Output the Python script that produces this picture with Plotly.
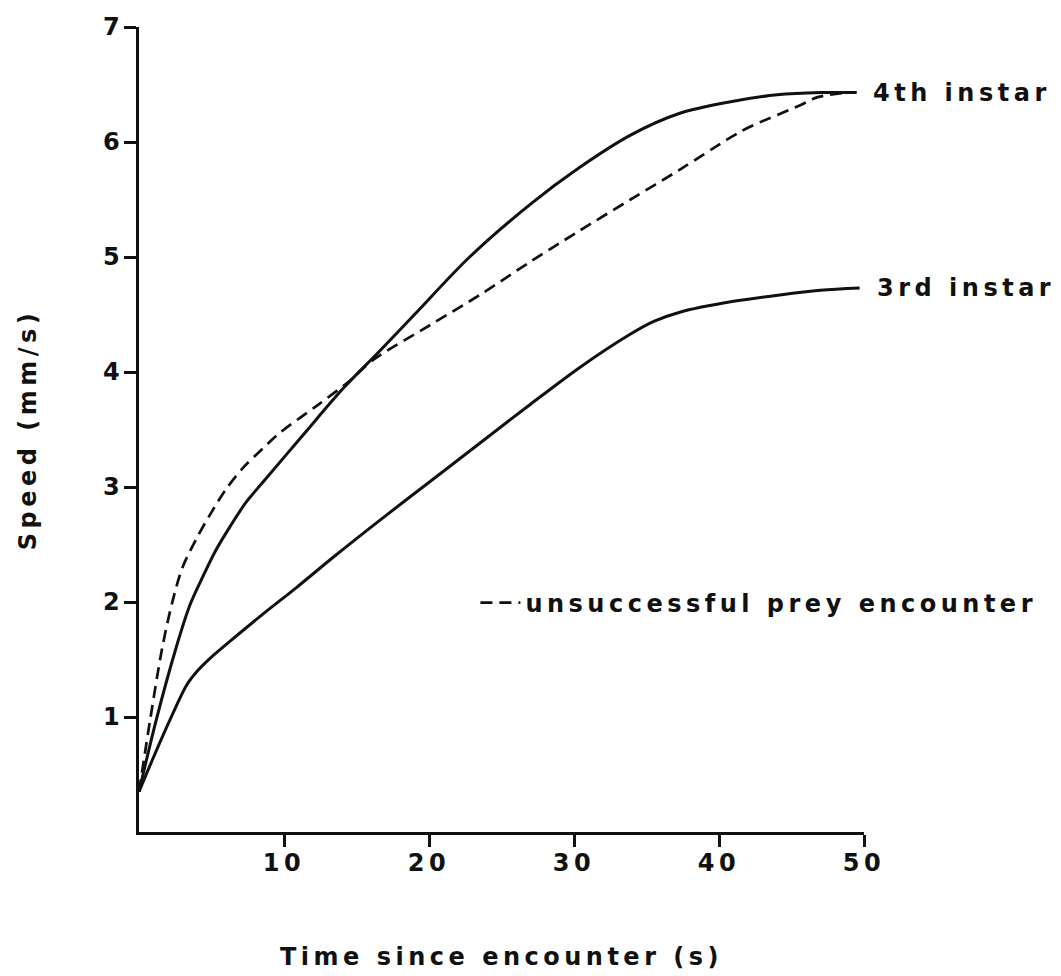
import plotly.graph_objects as go

# ---- data ----
time_4th = [0, 1.2, 2.6, 3.5, 4.4, 5.3, 6.3, 7.4, 8.6, 11.3, 14.1, 16.5, 19.0, 22.8, 27.0, 30.4, 33.9, 37.3, 40.8, 44.0, 47.0, 49.5]
speed_4th = [0.35, 0.98, 1.62, 1.97, 2.22, 2.45, 2.66, 2.87, 3.05, 3.45, 3.86, 4.17, 4.50, 5.00, 5.46, 5.78, 6.06, 6.25, 6.35, 6.41, 6.43, 6.43]

time_3rd = [0, 1.0, 2.3, 3.3, 4.1, 4.9, 6.1, 8.5, 10.9, 13.5, 16.6, 20.1, 23.5, 27.0, 30.4, 33.9, 35.5, 37.3, 40.8, 44.2, 47.0, 49.7]
speed_3rd = [0.35, 0.65, 1.02, 1.28, 1.41, 1.51, 1.64, 1.89, 2.13, 2.40, 2.71, 3.05, 3.38, 3.72, 4.04, 4.33, 4.44, 4.52, 4.61, 4.67, 4.71, 4.73]

time_unsucc = [0, 0.8, 1.6, 2.3, 3.0, 4.0, 4.9, 6.0, 7.2, 8.5, 9.7, 12.3, 14.5, 16.1, 20.1, 23.5, 27.0, 30.4, 33.9, 37.3, 40.8, 42.1, 45.6, 46.8, 48.8]
speed_unsucc = [0.35, 1.0, 1.60, 2.00, 2.30, 2.56, 2.76, 2.98, 3.17, 3.33, 3.47, 3.71, 3.92, 4.10, 4.41, 4.67, 4.96, 5.23, 5.50, 5.76, 6.04, 6.13, 6.32, 6.39, 6.43]

x_ticks = [10, 20, 30, 40, 50]
y_ticks = [1, 2, 3, 4, 5, 6, 7]
label_4th = "4th instar"
label_3rd = "3rd instar"
label_unsucc = "unsuccessful prey encounter"
x_title = "Time since encounter (s)"
y_title = "Speed (mm/s)"

FONT = dict(family="DejaVu Sans", size=24, color="#111111", weight="bold")
INK = "#111111"
SMOOTH = 0.9

fig = go.Figure()
fig.add_trace(go.Scatter(x=time_4th, y=speed_4th, mode="lines", name=label_4th,
                         line=dict(color=INK, width=3, shape="spline", smoothing=SMOOTH),
                         showlegend=False))
fig.add_trace(go.Scatter(x=time_3rd, y=speed_3rd, mode="lines", name=label_3rd,
                         line=dict(color=INK, width=3, shape="spline", smoothing=SMOOTH),
                         showlegend=False))
fig.add_trace(go.Scatter(x=time_unsucc, y=speed_unsucc, mode="lines", name=label_unsucc,
                         line=dict(color=INK, width=2.7, dash="12px,7px", shape="spline", smoothing=SMOOTH),
                         showlegend=True))

fig.add_annotation(x=time_4th[-1], y=speed_4th[-1], xref="x", yref="y", text=label_4th,
                   showarrow=False, xanchor="left", yanchor="middle", align="left",
                   xshift=14, font=FONT)
fig.add_annotation(x=time_3rd[-1], y=speed_3rd[-1], xref="x", yref="y", text=label_3rd,
                   showarrow=False, xanchor="left", yanchor="middle", align="left",
                   xshift=15, font=FONT)

axis_common = dict(showline=True, linewidth=3, linecolor=INK, ticks="outside", ticklen=12,
                   tickwidth=3, tickcolor=INK, showgrid=False, zeroline=False,
                   tickfont=FONT, automargin=False, mirror=False)

fig.update_layout(
    width=1061, height=976,
    margin=dict(l=139, r=197, t=27, b=144),
    paper_bgcolor="white", plot_bgcolor="white",
    template="none",
    font=FONT,
    xaxis=dict(range=[0, 50], tickvals=x_ticks, ticklabelstandoff=-5,
               title=dict(text=x_title, font=FONT, standoff=73), **axis_common),
    yaxis=dict(range=[0, 7], tickvals=y_ticks, ticklabelstandoff=-5,
               title=dict(text=y_title, font=FONT, standoff=65), **axis_common),
    legend=dict(x=0.464, y=0.2845, xanchor="left", yanchor="middle",
                bgcolor="rgba(0,0,0,0)", borderwidth=0, font=FONT, itemwidth=40),
    showlegend=True,
)

post = ("var s=document.createElement('style');"
        "s.innerHTML='body{margin:0 !important;} .main-svg text{letter-spacing:4.5px !important;} "
        ".legend, .legend *{clip-path:none !important;}';"
        "document.head.appendChild(s);")
fig.write_html("out.html", post_script=post, config={"displayModeBar": False})
